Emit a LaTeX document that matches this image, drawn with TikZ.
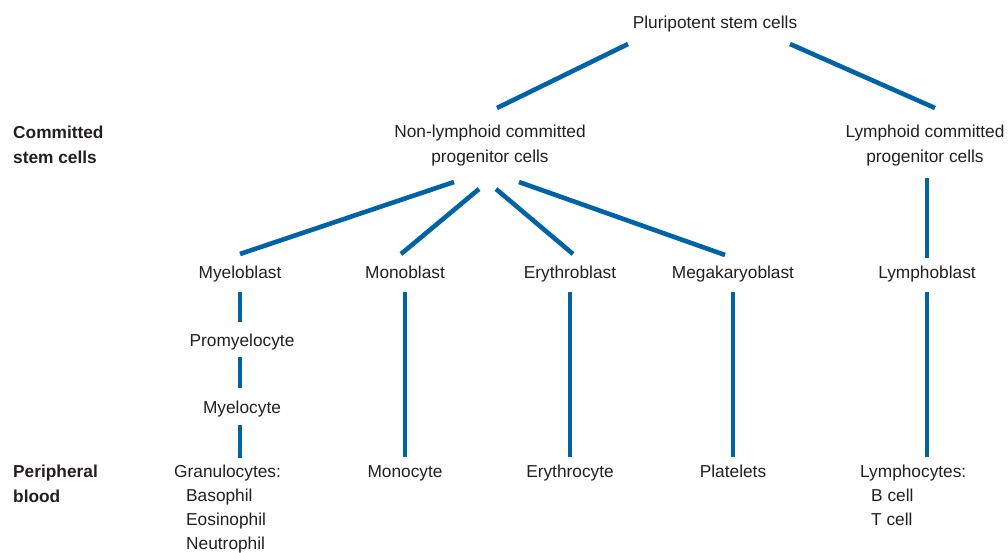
\documentclass[tikz,border=0pt]{standalone}
\usepackage{fontspec}
\setmainfont{Liberation Sans}
\usetikzlibrary{calc}
\definecolor{lineblue}{HTML}{0063A6}
\definecolor{txt}{HTML}{231F20}
\newcommand{\lblfont}{\fontsize{17.3}{25}\selectfont}
\begin{document}
\begin{tikzpicture}[x=1pt,y=-1pt,
  lbl/.style={font=\lblfont, text=txt, inner sep=0pt, align=center},
  one/.style={lbl, text height=16.4pt, text depth=4pt},
  lst/.style={font=\fontsize{17.3}{24}\selectfont, text=txt, inner sep=0pt, align=left, anchor=north west},
  side/.style={font=\fontsize{17.3}{25}\selectfont\bfseries, text=txt, inner sep=0pt, align=left, anchor=north west},
  conn/.style={draw=lineblue, line width=4.6pt}]
\useasboundingbox (0,0) rectangle (1008,552);

% labels at left
\node[side] (committed) at (13,126) {Committed\\stem cells};
\node[side] (peripheral) at (13,465) {Peripheral\\blood};

% nodes
\node[one] (plur) at (715,22) {Pluripotent stem cells};
\node[lbl] (nonlym) at (490,146) {Non-lymphoid committed\\progenitor cells};
\node[lbl] (lym) at (925,146) {Lymphoid committed\\progenitor cells};

\node[one] (myelo) at (240,272) {Myeloblast};
\node[one] (mono) at (405,272) {Monoblast};
\node[one] (eryth) at (570,272) {Erythroblast};
\node[one] (mega) at (733,272) {Megakaryoblast};
\node[one] (lymb) at (927,272) {Lymphoblast};

\node[one] (promy) at (242,340) {Promyelocyte};
\node[one] (myelocyte) at (242,407) {Myelocyte};

\node[lst] (gran) at (174,465) {Granulocytes:\\\hspace*{12pt}Basophil\\\hspace*{12pt}Eosinophil\\\hspace*{12pt}Neutrophil};
\node[one] (monocyte) at (405,471) {Monocyte};
\node[one] (erythrocyte) at (570,471) {Erythrocyte};
\node[one] (platelets) at (733,471) {Platelets};
\node[lst] (lymphocytes) at (860,465) {Lymphocytes:\\\hspace*{11pt}B cell\\\hspace*{11pt}T cell};

% connectors
\draw[conn] ($(plur)+(-87,22)$) -- ($(nonlym)+(7,-38)$);
\draw[conn] ($(plur)+(75,22)$) -- ($(lym)+(10,-38)$);

\draw[conn] ($(nonlym)+(-36,36)$) -- ($(myelo)+(0,-18)$);
\draw[conn] ($(nonlym)+(-11,43)$) -- ($(mono)+(-4,-18)$);
\draw[conn] ($(nonlym)+(6,43)$) -- ($(eryth)+(3,-18)$);
\draw[conn] ($(nonlym)+(29,36)$) -- ($(mega)+(-8,-17)$);
\draw[conn] ($(lym)+(2,32)$) -- ($(lymb)+(0,-14)$);

\draw[conn] ($(myelo)+(0,20)$) -- ($(promy)+(-2,-18)$);
\draw[conn] ($(promy)+(-2,17)$) -- ($(myelocyte)+(-2,-19)$);
\draw[conn] ($(myelocyte)+(-2,18)$) -- ($(gran.north west)+(66,-7)$);
\draw[conn] ($(mono)+(0,20)$) -- ($(monocyte)+(0,-14)$);
\draw[conn] ($(eryth)+(0,20)$) -- ($(erythrocyte)+(0,-14)$);
\draw[conn] ($(mega)+(0,20)$) -- ($(platelets)+(0,-14)$);
\draw[conn] ($(lymb)+(0,20)$) -- ($(lymphocytes.north west)+(67,-8)$);
\end{tikzpicture}
\end{document}
